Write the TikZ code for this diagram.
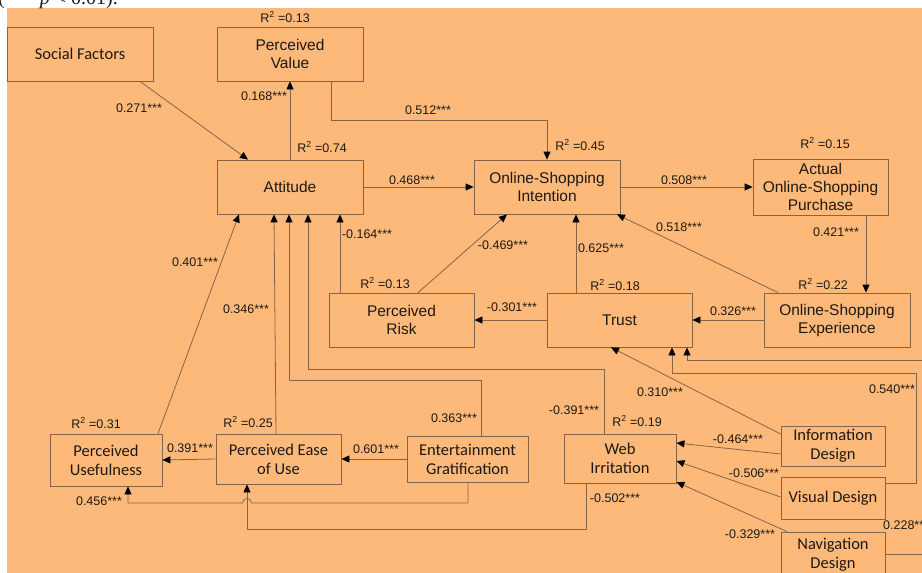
\documentclass[tikz,border=0pt]{standalone}
\usepackage{fontspec}
\setmainfont{Liberation Sans}
\newfontfamily\calibf{Carlito}
\newfontfamily\serf{Liberation Serif}
\usetikzlibrary{arrows.meta,calc}
\definecolor{bgor}{RGB}{252,185,122}
\definecolor{lnc}{RGB}{135,100,72}
\definecolor{txc}{RGB}{30,25,20}
\begin{document}
\begin{tikzpicture}[x=1pt,y=-1pt,
  box/.style={draw=lnc,line width=0.8pt,inner sep=0pt,align=center,text=txc,font=\fontsize{15.5}{18}\selectfont},
  cbox/.style={box,font=\calibf\fontsize{16.5}{19}\selectfont},
  lab/.style={text=txc,inner sep=0pt,font=\fontsize{12.5}{15}\selectfont},
  arr/.style={draw=lnc,line width=0.8pt,-{Triangle[length=8pt,width=7pt,color=black]}},
  ln/.style={draw=lnc,line width=0.8pt}]
\useasboundingbox (0,0) rectangle (922,573);
\fill[white] (0,0) rectangle (922,573);
\fill[bgor] (7,8) rectangle (922,573);
\begin{scope}
\clip (0,0) rectangle (922,8);
\node[anchor=base west,inner sep=0pt,text=txc,font=\serf\fontsize{20}{24}\selectfont] (cap) at (-2,4) {(*** \textit{p} < 0.01).};
\end{scope}
% boxes
\node[cbox,minimum width=146pt,minimum height=54pt] (SF) at (80,54) {Social Factors};
\node[box,minimum width=146pt,minimum height=54pt] (PV) at (290,54) {Perceived\\Value};
\node[box,minimum width=146pt,minimum height=54pt] (ATT) at (290,187) {Attitude};
\node[box,minimum width=146pt,minimum height=54pt] (OSI) at (547,187) {Online-Shopping\\Intention};
\node[box,minimum width=135pt,minimum height=56pt] (AOP) at (820.5,187) {Actual\\Online-Shopping\\Purchase};
\node[box,minimum width=146pt,minimum height=54pt] (OSE) at (837,320) {Online-Shopping\\Experience};
\node[box,minimum width=145pt,minimum height=54pt] (TR) at (619.5,320) {Trust};
\node[box,minimum width=145pt,minimum height=54pt] (PR) at (401.5,320) {Perceived\\Risk};
\node[cbox,minimum width=112pt,minimum height=52pt] (PU) at (106,460) {Perceived\\Usefulness};
\node[cbox,minimum width=125pt,minimum height=50pt] (PEOU) at (278.5,459) {Perceived Ease\\of Use};
\node[cbox,minimum width=121pt,minimum height=46pt] (EG) at (467.5,459) {Entertainment\\Gratification};
\node[cbox,minimum width=112pt,minimum height=49pt] (WI) at (620,458.5) {Web\\Irritation};
\node[cbox,minimum width=104pt,minimum height=40pt] (ID) at (833,446) {Information\\Design};
\node[cbox,minimum width=104pt,minimum height=42pt] (VD) at (833,498) {Visual Design};
\node[cbox,minimum width=104pt,minimum height=46pt] (ND) at (833,555) {Navigation\\Design};
% connectors
\draw[arr] (SF.south -| 140,0) -- (ATT.north -| 248,0);
\draw[arr] (ATT.north) -- (PV.south);
\draw[arr] (PV.south -| 331,0) -- (331,120) -| (OSI.north);
\draw[arr] (ATT.east) -- (OSI.west);
\draw[arr] (OSI.east) -- (AOP.west);
\draw[arr] (AOP.south -| 866,0) -- (OSE.north -| 866,0);
\draw[arr] (OSE.north -| 778,0) -- (OSI.south -| 617,0);
\draw[arr] (OSE.west) -- (TR.east);
\draw[arr] (TR.north -| 576,0) -- (OSI.south -| 576,0);
\draw[arr] (TR.west) -- (PR.east);
\draw[arr] (PR.north -| 340,0) -- (ATT.south -| 340,0);
\draw[arr] (PR.north -| 418,0) -- (OSI.south -| 507,0);
\draw[arr] (WI.north -| 604,0) -- (604,369) -| (ATT.south -| 308,0);
\draw[arr] (EG.north -| 481,0) -- (481,380) -| (ATT.south -| 289,0);
\draw[arr] (PEOU.north -| 276,0) -- (ATT.south -| 274,0);
\draw[arr] (PU.north -| 158,0) -- (ATT.south -| 239,0);
\draw[arr] (PEOU.west) -- (PU.east);
\draw[arr] (EG.west) -- (PEOU.east);
\draw[arr] (EG.south -| 468,0) -- (468,503) -- (251.5,503) .. controls (251.5,497) and (242.5,497) .. (242.5,503) -- (128,503) -- (PU.south -| 128,0);
\draw[arr] (WI.south -| 586,0) -- (586,529) -| (PEOU.south -| 247,0);
\draw[arr] (ID.west |- 0,434) -- (TR.south -| 611,0);
\draw[arr] (ID.west |- 0,454) -- (WI.east |- 0,443);
\draw[arr] (VD.west |- 0,497) -- (WI.east |- 0,461);
\draw[arr] (ND.north -| 787,0) -- (WI.east |- 0,482);
\draw[arr] (VD.east |- 0,483) -- (916,483) |- (672,373) -- (TR.south -| 672,0);
\draw[arr] (ND.east |- 0,554) -- (935,554) -- (935,360) -- (687,360) -- (TR.south -| 687,0);
% labels
\node[lab] (l1) at (139,108) {0.271***};
\node[lab] (l2) at (264,96) {0.168***};
\node[lab] (l3) at (428,110) {0.512***};
\node[lab] (r1) at (322,147) {R\textsuperscript{2} =0.74};
\node[lab] (r2) at (285,17) {R\textsuperscript{2} =0.13};
\node[lab] (l4) at (412,180) {0.468***};
\node[lab] (r3) at (580,145) {R\textsuperscript{2} =0.45};
\node[lab] (l5) at (684,180) {0.508***};
\node[lab] (r4) at (825,143) {R\textsuperscript{2} =0.15};
\node[lab] (l6) at (836,232) {0.421***};
\node[lab] (l7) at (679,227) {0.518***};
\node[lab] (l8) at (503,245) {-0.469***};
\node[lab] (l9) at (601,248) {0.625***};
\node[lab] (l10) at (367,234) {-0.164***};
\node[lab] (l11) at (195,262) {0.401***};
\node[lab] (r5) at (385,283) {R\textsuperscript{2} =0.13};
\node[lab] (r6) at (615,285) {R\textsuperscript{2} =0.18};
\node[lab] (r7) at (823,284) {R\textsuperscript{2} =0.22};
\node[lab] (l12) at (512,307) {-0.301***};
\node[lab] (l13) at (733,311) {0.326***};
\node[lab] (l14) at (246,309) {0.346***};
\node[lab] (l15) at (660,392) {0.310***};
\node[lab] (l16) at (892,389) {0.540***};
\node[lab] (l17) at (574,410) {-0.391***};
\node[lab] (r8) at (96,423) {R\textsuperscript{2} =0.31};
\node[lab] (r9) at (248,422) {R\textsuperscript{2} =0.25};
\node[lab] (l18) at (454,418) {0.363***};
\node[lab] (r10) at (637,421) {R\textsuperscript{2} =0.19};
\node[lab] (l19) at (738,439) {-0.464***};
\node[lab] (l20) at (190,448) {0.391***};
\node[lab] (l21) at (376,449) {0.601***};
\node[lab] (l22) at (754,473) {-0.506***};
\node[lab] (l23) at (615,498) {-0.502***};
\node[lab] (l24) at (99,501) {0.456***};
\node[lab,anchor=west] (l25) at (883,525) {0.228***};
\node[lab] (l26) at (750,534) {-0.329***};
\end{tikzpicture}
\end{document}
